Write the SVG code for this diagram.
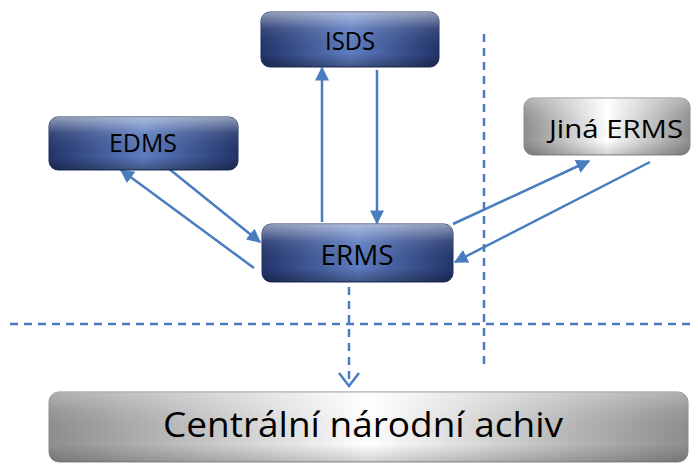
<svg xmlns="http://www.w3.org/2000/svg" width="698" height="468" viewBox="0 0 698 468">
<style>
.lbl{font-family:"Open Sans","Liberation Sans",sans-serif;fill:#000;text-anchor:middle}
.conn{stroke:#4a7dbf;stroke-width:2.5;fill:none}
.dash{stroke:#4a7dbf;stroke-width:2.5;fill:none;stroke-dasharray:8 6}
.blue{fill:url(#gBlue);stroke:#1f2f63;stroke-width:1}
.gray{fill:url(#gGray);stroke:#8a8a8a;stroke-width:1}
.gloss{fill:url(#gGloss)}
</style>
<defs>
<linearGradient id="gBlue" x1="0" y1="0" x2="1" y2="0">
<stop offset="0" stop-color="#22356c"/>
<stop offset="0.5" stop-color="#5e7dc1"/>
<stop offset="1" stop-color="#22356c"/>
</linearGradient>
<linearGradient id="gGray" x1="0" y1="0" x2="1" y2="0">
<stop offset="0" stop-color="#8e8e8e"/>
<stop offset="0.5" stop-color="#ffffff"/>
<stop offset="1" stop-color="#8e8e8e"/>
</linearGradient>
<linearGradient id="gGloss" x1="0" y1="0" x2="0" y2="1">
<stop offset="0" stop-color="#ffffff" stop-opacity="0.5"/>
<stop offset="0.3" stop-color="#ffffff" stop-opacity="0.1"/>
<stop offset="0.75" stop-color="#000000" stop-opacity="0"/>
<stop offset="1" stop-color="#000000" stop-opacity="0.3"/>
</linearGradient>
<marker id="arr" viewBox="0 0 10 10" refX="9" refY="5" markerWidth="5.6" markerHeight="5.6" orient="auto" markerUnits="strokeWidth">
<path d="M0,0 L10,5 L0,10 z" fill="#4a7dbf"/>
</marker>
</defs>
<g id="connectors">
<line class="dash" x1="10" y1="324" x2="690" y2="324"/>
<line class="dash" x1="484" y1="34" x2="484" y2="365"/>
<line class="dash" x1="349" y1="287" x2="349" y2="382"/>
<polyline class="conn" points="339,373 349,386 359,373" stroke-width="2"/>
<line class="conn" x1="322" y1="222" x2="322" y2="68" marker-end="url(#arr)"/>
<line class="conn" x1="377" y1="70" x2="377" y2="223" marker-end="url(#arr)"/>
<line class="conn" x1="168" y1="168" x2="260" y2="242" marker-end="url(#arr)"/>
<line class="conn" x1="254" y1="268" x2="121" y2="170" marker-end="url(#arr)"/>
<line class="conn" x1="453" y1="224" x2="589" y2="161" marker-end="url(#arr)"/>
<line class="conn" x1="650" y1="162" x2="455" y2="262" marker-end="url(#arr)"/>
</g>
<g id="isds">
<rect class="blue" x="261" y="12" width="178" height="55" rx="9"/>
<rect class="gloss" x="261" y="12" width="178" height="55" rx="9"/>
<text class="lbl" x="350" y="50" font-size="26" textLength="50" lengthAdjust="spacingAndGlyphs">ISDS</text>
</g>
<g id="edms">
<rect class="blue" x="49" y="117" width="189" height="53" rx="9"/>
<rect class="gloss" x="49" y="117" width="189" height="53" rx="9"/>
<text class="lbl" x="143" y="152" font-size="26" textLength="68" lengthAdjust="spacingAndGlyphs">EDMS</text>
</g>
<g id="jina-erms">
<rect class="gray" x="524" y="98" width="166" height="57" rx="9"/>
<rect class="gloss" x="524" y="98" width="166" height="57" rx="9" opacity="0.6"/>
<text class="lbl" x="616" y="138" font-size="26" textLength="134" lengthAdjust="spacingAndGlyphs">Jiná ERMS</text>
</g>
<g id="erms">
<rect class="blue" x="262" y="224" width="191" height="58" rx="9"/>
<rect class="gloss" x="262" y="224" width="191" height="58" rx="9"/>
<text class="lbl" x="357" y="265" font-size="27" textLength="73" lengthAdjust="spacingAndGlyphs">ERMS</text>
</g>
<g id="archiv">
<rect class="gray" x="49" y="392" width="639" height="70" rx="10"/>
<rect class="gloss" x="49" y="392" width="639" height="70" rx="10" opacity="0.6"/>
<text class="lbl" x="363" y="437" font-size="35" textLength="400" lengthAdjust="spacingAndGlyphs">Centrální národní achiv</text>
</g>
</svg>
